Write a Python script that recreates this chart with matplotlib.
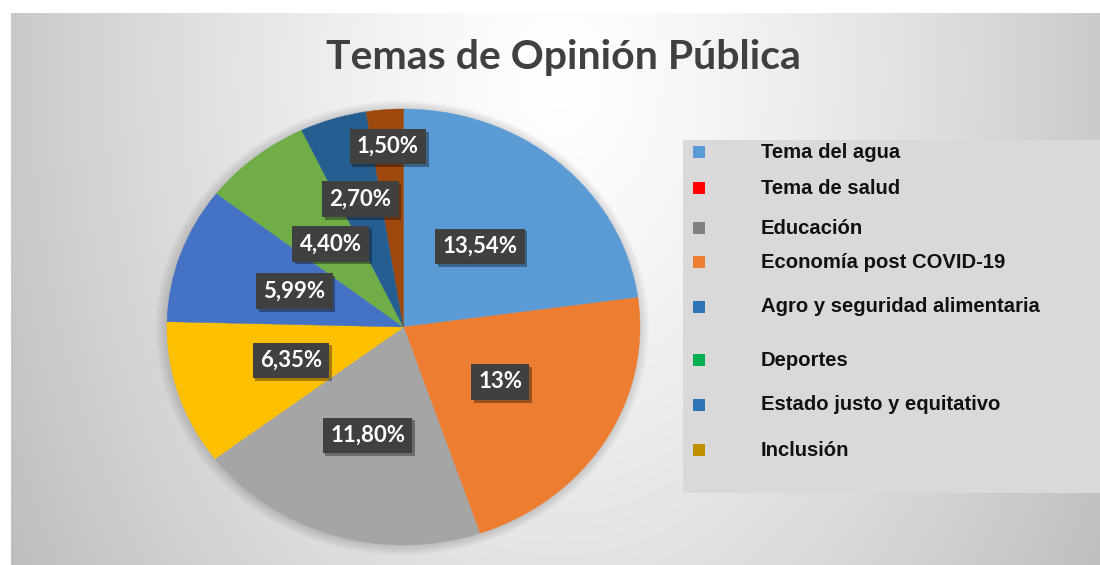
import matplotlib
matplotlib.use("Agg")
import matplotlib.pyplot as plt
import numpy as np
from matplotlib.patches import Rectangle, Ellipse
from matplotlib import patheffects as pe

# pie slices (clockwise from 12 o'clock)
pie_values = [13.54, 13.0, 11.80, 6.35, 5.99, 4.40, 2.70, 1.50]
pie_labels = ['13,54%', '13%', '11,80%', '6,35%', '5,99%', '4,40%', '2,70%', '1,50%']
pie_colors = ['#5B9BD5', '#ED7D31', '#A5A5A5', '#FFC000',
              '#4472C4', '#70AD47', '#255E91', '#9E480E']
# radial position of each data label (fraction of radius)
label_dist = [0.49, 0.48, 0.52, 0.50, 0.49, 0.49, 0.615, 0.83]

# legend entries as shown in the original
legend_names = ['Tema del agua', 'Tema de salud', 'Educación', 'Economía post COVID-19',
                'Agro y seguridad alimentaria', 'Deportes', 'Estado justo y equitativo',
                'Inclusión']
legend_colors = ['#5B9BD5', '#FF0000', '#808080', '#ED7D31',
                 '#2E75B6', '#00B050', '#2E75B6', '#BF9000']
legend_rows_px = [152, 188, 228, 262, 307, 360, 405, 450]

W, H = 1100, 565
fig = plt.figure(figsize=(W / 100, H / 100), dpi=100)
fig.patch.set_facecolor('white')

# chart area background with radial gradient
bg = fig.add_axes([11 / W, 0, 1 - 11 / W, 1 - 13 / H])
xx, yy = np.meshgrid(np.linspace(11, 1100, 400), np.linspace(13, 565, 200))
d = np.sqrt(((xx - 560) / 600) ** 2 + ((yy - 70) / 900) ** 2)
shade = 255 - 60 * np.clip(d, 0, 1.15) ** 1.3
shade = np.clip(shade, 190, 255) / 255
bg.imshow(np.dstack([shade, shade, shade]), extent=[11, 1100, 565, 13],
          aspect='auto', interpolation='bilinear')
bg.set_xlim(11, 1100)
bg.set_ylim(565, 13)
bg.axis('off')

fig.text(563 / W, 1 - 58 / H, 'Temas de Opinión Pública', ha='center', va='center',
         fontsize=29.5, fontweight='bold', family='Lato', color='#404040')

# pie
ax = fig.add_axes([167 / W, 1 - 545 / H, (640 - 167) / W, (545 - 109) / H])
# soft shadow under the pie
for k in range(8):
    ax.add_patch(Ellipse((-0.006, -0.004), 2 + 0.012 * k, 2 + 0.012 * k,
                         fc='#606060', ec='none', alpha=0.035, zorder=0, clip_on=False))
wedges, _ = ax.pie(pie_values, colors=pie_colors, startangle=90, counterclock=False,
                   wedgeprops=dict(linewidth=0.3, edgecolor='none'))
for w in wedges:
    w.set_edgecolor(w.get_facecolor())
    w.set_zorder(2)
ax.set_aspect('auto')
ax.set_xlim(-1, 1)
ax.set_ylim(-1, 1)

for w, lab, r in zip(wedges, pie_labels, label_dist):
    ang = np.deg2rad((w.theta1 + w.theta2) / 2)
    t = ax.text(r * np.cos(ang), r * np.sin(ang), lab, ha='center', va='center',
                fontsize=16, fontweight='bold', family='Lato', color='white', zorder=5,
                bbox=dict(boxstyle='square,pad=0.33', fc='#404040', ec='none'))
    t.get_bbox_patch().set_path_effects([
        pe.SimplePatchShadow(offset=(2, -2), shadow_rgbFace='black', alpha=0.35), pe.Normal()])

# legend panel
lg = fig.add_axes([0, 0, 1, 1])
lg.set_xlim(0, W)
lg.set_ylim(H, 0)
lg.axis('off')
lg.add_patch(Rectangle((683, 140), W - 683, 493 - 140, fc='#D9D9D9', ec='none'))
for name, col, yp in zip(legend_names, legend_colors, legend_rows_px):
    lg.add_patch(Rectangle((693, yp - 6), 12, 12, fc=col, ec='none'))
    lg.text(761, yp, name, ha='left', va='center', fontsize=14.6, fontweight='bold',
            family='Liberation Sans', color='#111111')

fig.savefig('out.png', dpi=100)
